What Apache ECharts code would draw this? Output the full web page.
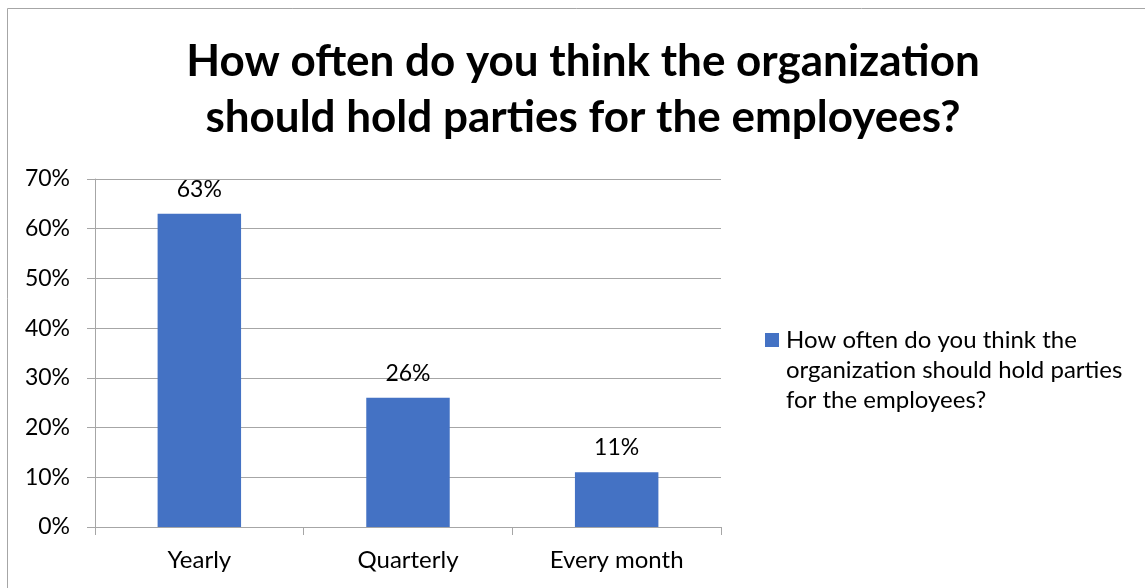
<!DOCTYPE html>
<html>
<head>
<meta charset="utf-8">
<script src="https://cdn.jsdelivr.net/npm/echarts@6/dist/echarts.min.js"></script>
<style>
  html, body { margin: 0; padding: 0; background: #fff; }
  #chart { width: 1145px; height: 588px; }
</style>
</head>
<body>
<div id="chart"></div>
<script>
// Survey responses: preferred frequency of staff parties (share of respondents, %)
const categories = ['Yearly', 'Quarterly', 'Every month'];
const shares = [63, 26, 11];
const seriesName = 'How often do you think the organization should hold parties for the employees?';
const titleLines = ['How often do you think the organization', 'should hold parties for the employees?'];
const legendLines = ['How often do you think the', 'organization should hold parties', 'for the employees?'];

const FONT = 'Lato, "Open Sans", sans-serif';
const GRID_GRAY = '#a6a6a6';
const BAR_BLUE = '#4472c4';
const NUM_SIZE = 23;
const WORD_SIZE = 24;

const chart = echarts.init(document.getElementById('chart'), null, { renderer: 'canvas' });

chart.setOption({
  backgroundColor: '#ffffff',
  animation: false,
  grid: { left: 95, right: 424, top: 179, bottom: 61, containLabel: false },
  xAxis: {
    type: 'category',
    data: categories,
    axisLine: { show: true, lineStyle: { color: GRID_GRAY, width: 1 } },
    axisTick: { show: true, length: 8, lineStyle: { color: GRID_GRAY } },
    axisLabel: { color: '#000', fontFamily: FONT, fontSize: WORD_SIZE, margin: 21 }
  },
  yAxis: {
    type: 'value',
    min: 0,
    max: 70,
    interval: 10,
    axisLine: { show: true, lineStyle: { color: GRID_GRAY, width: 1 } },
    axisTick: { show: true, length: 8, lineStyle: { color: GRID_GRAY } },
    splitLine: { show: true, lineStyle: { color: GRID_GRAY, width: 1 } },
    axisLabel: { color: '#000', fontFamily: FONT, fontSize: NUM_SIZE, margin: 25, formatter: '{value}%' }
  },
  series: [{
    name: seriesName,
    type: 'bar',
    data: shares,
    barWidth: '40%',
    itemStyle: { color: BAR_BLUE },
    label: {
      show: true,
      position: 'top',
      distance: 13,
      color: '#000',
      fontFamily: FONT,
      fontSize: NUM_SIZE,
      formatter: '{c}%'
    }
  }],
  graphic: [
    {
      type: 'rect',
      silent: true,
      shape: { x: 7.5, y: 8.5, width: 1200, height: 700 },
      style: { fill: 'none', stroke: '#a6a6a6', lineWidth: 1 }
    },
    {
      type: 'text',
      silent: true,
      style: {
        x: 583, y: 90,
        text: titleLines.join('\n'),
        align: 'center',
        verticalAlign: 'middle',
        fill: '#000',
        font: 'bold 44px ' + FONT,
        lineHeight: 56
      }
    },
    {
      type: 'rect',
      silent: true,
      shape: { x: 765, y: 333, width: 14, height: 14 },
      style: { fill: BAR_BLUE }
    },
    {
      type: 'text',
      silent: true,
      style: {
        x: 786, y: 325,
        text: legendLines.join('\n'),
        align: 'left',
        verticalAlign: 'top',
        fill: '#000',
        font: WORD_SIZE + 'px ' + FONT,
        lineHeight: 30
      }
    }
  ]
});
</script>
</body>
</html>
